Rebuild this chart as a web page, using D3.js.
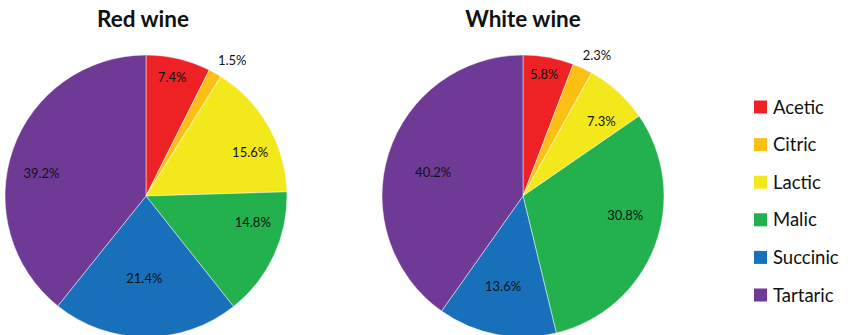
<!DOCTYPE html>
<html lang="en">
<head>
    <meta charset="UTF-8">
    <title>Wine acids</title>
    <script src="https://cdn.jsdelivr.net/npm/d3@7"></script>
    <style>
        body {
            margin: 0;
            background-color: white;
        }
        text {
            font-family: Lato, "Open Sans", sans-serif;
            fill: #111;
        }
        text.title {
            font-weight: bold;
            font-size: 22.5px;
        }
        text.label {
            font-size: 13px;
        }
        text.legend {
            font-size: 18.5px;
        }
        path.slice {
            stroke: rgba(255, 255, 255, 0.6);
            stroke-width: 0.8;
        }
    </style>
</head>
<body>

<svg id="svg" width="848" height="335"></svg>

<script>
    // data
    var categories = ["Acetic", "Citric", "Lactic", "Malic", "Succinic", "Tartaric"];
    var redWine = [7.4, 1.5, 15.6, 14.8, 21.4, 39.2];
    var whiteWine = [5.8, 2.3, 7.3, 30.8, 13.6, 40.2];
    var colors = ["#ee2225", "#fcbf14", "#f2e81c", "#22b14c", "#1770b9", "#6f3a96"];

    var svg = d3.select("#svg");

    var radius = 141;

    // layout of the two pies; label distance (px) and angle nudge (deg) per slice, like excel's best fit
    var pies = [
        {title: "Red wine", values: redWine, cx: 146, cy: 196, titleX: 143,
            labelR: [122, 161, 113, 110, 82, 107], labelNudge: [-1, 3, 7, -11, 1, -7]},
        {title: "White wine", values: whiteWine, cx: 523, cy: 196, titleX: 523,
            labelR: [124, 159, 108, 104, 92, 93], labelNudge: [-0.6, 2.7, 4.2, -10.3, 1.7, -2.7]}
    ];

    var pie = d3.pie()
        .sort(null)
        .value(function(d) { return d.value; });

    var arc = d3.arc()
        .innerRadius(0)
        .outerRadius(radius);

    var color = d3.scaleOrdinal()
        .domain(categories)
        .range(colors);

    pies.forEach(function(p) {
        var data = categories.map(function(c, i) {
            return {name: c, value: p.values[i]};
        });

        svg.append("text")
            .attr("class", "title")
            .attr("x", p.titleX)
            .attr("y", 27)
            .attr("text-anchor", "middle")
            .text(p.title);

        var g = svg.append("g")
            .attr("transform", "translate(" + p.cx + "," + p.cy + ")");

        var arcs = pie(data);

        g.selectAll("path.slice")
            .data(arcs)
            .enter()
            .append("path")
            .attr("class", "slice")
            .attr("fill", function(d) { return color(d.data.name); })
            .attr("d", arc);

        g.selectAll("text.label")
            .data(arcs)
            .enter()
            .append("text")
            .attr("class", "label")
            .attr("text-anchor", "middle")
            .attr("dy", "0.36em")
            .attr("transform", function(d, i) {
                var r = p.labelR[i];
                var a = (d.startAngle + d.endAngle) / 2 + p.labelNudge[i] * Math.PI / 180;
                return "translate(" + (Math.sin(a) * r) + "," + (-Math.cos(a) * r) + ")";
            })
            .text(function(d) { return d.data.value.toFixed(1) + "%"; });
    });

    // legend
    var legendY = d3.scalePoint()
        .domain(categories)
        .range([107, 295]);

    var legend = svg.append("g")
        .selectAll("g")
        .data(categories)
        .enter()
        .append("g")
        .attr("transform", function(d) { return "translate(754," + legendY(d) + ")"; });

    legend.append("rect")
        .attr("x", 0)
        .attr("y", -6.5)
        .attr("width", 13)
        .attr("height", 13)
        .attr("fill", function(d) { return color(d); });

    legend.append("text")
        .attr("class", "legend")
        .attr("x", 19)
        .attr("dy", "0.36em")
        .text(function(d) { return d; });
</script>
</body>
</html>
